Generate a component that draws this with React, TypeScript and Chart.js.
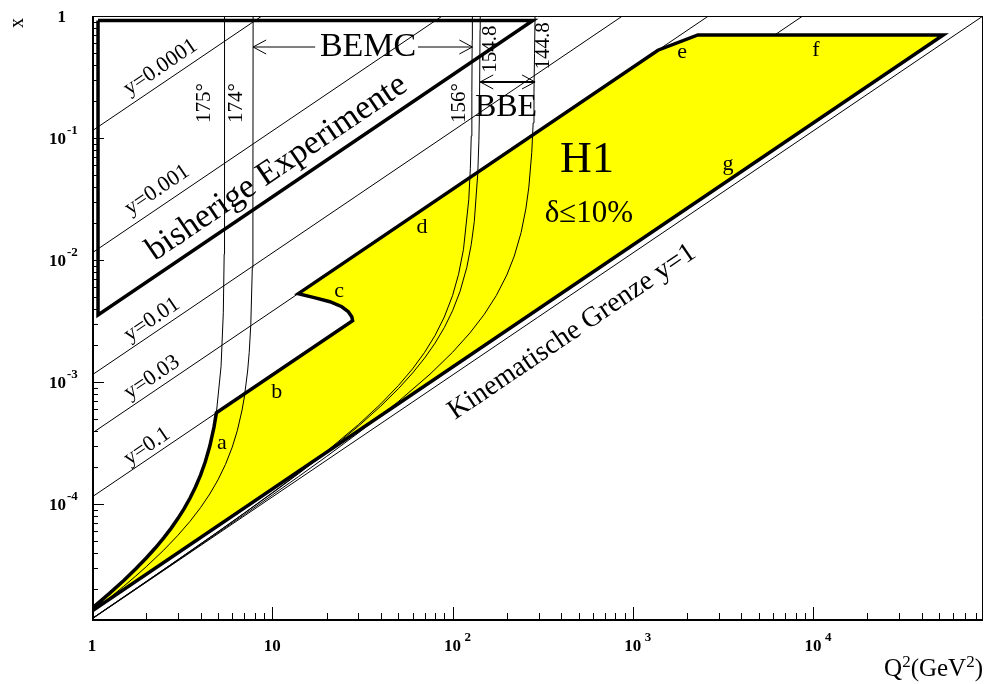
import React, { useEffect, useRef } from 'react';
import { Chart, registerables } from 'chart.js';

Chart.register(...registerables);

// Axis ranges: Q² from 1 to s = 4·Ee·Ep, x from 1/s to 1 (so y = 1 is the diagonal)
const Q2_MIN = 1;
const Q2_MAX = 87600;
const X_MIN = 1.142e-5;
const X_MAX = 1;

type P = [number, number]; // [Q², x]

// Lines of constant inelasticity y
const lineY00001: P[] = [[1, 0.1142], [8.76, 1]];
const lineY0001: P[] = [[1, 0.01142], [87.6, 1]];
const lineY001: P[] = [[1, 1.142e-3], [876, 1]];
const lineY003: P[] = [[1, 3.805e-4], [2628, 1]];
const lineY01: P[] = [[1, 1.142e-4], [8760, 1]];
const lineY1: P[] = [[1, 1.142e-5], [87600, 1]];

// Lines of constant electron scattering angle
const theta175: P[] = [
  [1, 1.399e-5], [1.25, 1.853e-5], [1.5, 2.364e-5], [1.75, 2.945e-5], [2, 3.61e-5],
  [2.25, 4.38e-5], [2.5, 5.281e-5], [2.75, 6.349e-5], [3, 7.636e-5], [3.25, 9.216e-5],
  [3.5, 1.12e-4], [3.75, 1.378e-4], [4, 1.725e-4], [4.25, 2.218e-4], [4.5, 2.973e-4],
  [4.75, 4.275e-4], [4.9, 5.633e-4], [5.2, 1.345e-3], [5.35, 3.692e-3], [5.41, 0.0112],
  [5.43, 0.0337], [5.437, 0.1126], [5.44, 1],
];
const theta174: P[] = [
  [1, 1.309e-5], [1.25, 1.698e-5], [1.5, 2.118e-5], [1.75, 2.573e-5], [2, 3.066e-5],
  [2.5, 4.192e-5], [3, 5.551e-5], [3.5, 7.225e-5], [4, 9.336e-5], [4.5, 1.208e-4],
  [5, 1.579e-4], [5.5, 2.11e-4], [6, 2.931e-4], [6.4, 4.0e-4], [6.8, 5.902e-4],
  [7.0, 7.538e-4], [7.3, 1.231e-3], [7.45, 1.7525e-3], [7.6, 2.954e-3], [7.75, 8.66e-3],
  [7.81, 0.0349], [7.83, 1],
];
const theta156: P[] = [
  [1, 1.151e-5], [2, 2.319e-5], [3, 3.506e-5], [5, 5.938e-5], [7, 8.45e-5],
  [10, 1.238e-4], [14, 1.793e-4], [20, 2.703e-4], [30, 4.465e-4], [40, 6.623e-4],
  [50, 9.329e-4], [60, 1.282e-3], [70, 1.75e-3], [80, 2.41e-3], [90, 3.41e-3],
  [100, 5.105e-3], [108, 7.634e-3], [115, 0.01225], [123, 0.03118], [125.5, 0.0559],
  [127, 0.1037], [128, 0.2353], [128.5, 0.63], [128.8, 1],
];
const theta154_8: P[] = [
  [1, 1.15e-5], [2, 2.316e-5], [3, 3.498e-5], [5, 5.915e-5], [7, 8.404e-5],
  [10, 1.228e-4], [14, 1.7724e-4], [20, 2.656e-4], [30, 4.339e-4], [40, 6.35e-4],
  [50, 8.796e-4], [60, 1.184e-3], [70, 1.5717e-3], [80, 2.084e-3], [90, 2.792e-3],
  [100, 3.834e-3], [110, 5.519e-3], [120, 8.709e-3], [127, 0.01341], [132, 0.02063],
  [138, 0.05098], [140, 0.0948], [141, 0.1637], [142.1, 0.77], [142.4, 1],
];
const theta144_8: P[] = [
  [1, 1.146e-5], [2, 2.299e-5], [3, 3.461e-5], [5, 5.809e-5], [7, 8.191e-5],
  [10, 1.183e-4], [14, 1.68e-4], [20, 2.454e-4], [30, 3.825e-4], [50, 6.912e-4],
  [75, 1.1592e-3], [100, 1.752e-3], [125, 2.529e-3], [150, 3.589e-3], [175, 5.122e-3],
  [200, 7.537e-3], [220, 0.01077], [240, 0.01676], [255, 0.02618], [265, 0.03963],
  [275, 0.0757], [280, 0.1329], [283, 0.2377], [285, 0.491], [286.9, 1],
];

// H1 region with δ ≤ 10 % (edges a–g)
const h1Region: P[] = [
  [1.03, 1.45e-5], [1.25, 1.853e-5], [1.5, 2.364e-5], [1.75, 2.945e-5], [2, 3.61e-5],
  [2.25, 4.38e-5], [2.5, 5.281e-5], [2.75, 6.349e-5], [3, 7.636e-5], [3.25, 9.216e-5],
  [3.5, 1.12e-4], [3.75, 1.378e-4], [4, 1.725e-4], [4.25, 2.218e-4], [4.5, 2.973e-4],
  [4.75, 4.275e-4], [4.896, 5.59e-4],
  [27.9, 3.185e-3], [27.6, 3.43e-3], [26.4, 3.77e-3], [24.3, 4.14e-3], [20.9, 4.55e-3],
  [16.89, 4.94e-3], [13.94, 5.3e-3],
  [1378, 0.5244], [2296, 0.7], [52735, 0.7],
  [1.03, 1.367e-5], [1.03, 1.45e-5],
];

// Region covered by earlier fixed-target experiments
const previousExperiments: P[] = [[1.08, 0.918], [279, 0.918], [1.08, 3.55e-3], [1.08, 0.918]];

// Axis ticks
const xMajorTicks = [1, 10, 100, 1000, 10000];
const xMajorLabels: [string, string][] = [['1', ''], ['10', ''], ['10', '2'], ['10', '3'], ['10', '4']];
const yMajorTicks = [1, 0.1, 0.01, 0.001, 0.0001];
const yMajorLabels: [string, string][] = [['1', ''], ['10', '-1'], ['10', '-2'], ['10', '-3'], ['10', '-4']];

const SERIF = '"Liberation Serif", "Times New Roman", serif';

const pts = (d: P[]) => d.map(([q, x]) => ({ x: q, y: x }));

const lineSet = (d: P[], order: number, width = 1) => ({
  data: pts(d),
  showLine: true,
  pointRadius: 0,
  borderColor: '#000',
  borderWidth: width,
  tension: 0,
  fill: false,
  order,
});

const figurePlugin = {
  id: 'figureDecor',
  afterDatasetsDraw(chart: any) {
    const { ctx, chartArea: a, scales } = chart;
    const X = (v: number) => scales.x.getPixelForValue(v);
    const Y = (v: number) => scales.y.getPixelForValue(v);
    // slope of the constant-y lines on screen
    const diag = Math.atan2(Y(X_MIN) - Y(X_MAX), X(Q2_MAX) - X(Q2_MIN));

    const text = (t: string, q: number, x: number, font: string, rot = 0, align: CanvasTextAlign = 'center') => {
      ctx.save();
      ctx.translate(X(q), Y(x));
      ctx.rotate(rot);
      ctx.font = font;
      ctx.fillStyle = '#000';
      ctx.textAlign = align;
      ctx.textBaseline = 'middle';
      ctx.fillText(t, 0, 0);
      ctx.restore();
    };

    ctx.save();
    // frame
    ctx.strokeStyle = '#000';
    ctx.lineWidth = 1;
    ctx.beginPath();
    ctx.moveTo(a.left, a.top + 0.5);
    ctx.lineTo(a.right - 0.5, a.top + 0.5);
    ctx.lineTo(a.right - 0.5, a.bottom);
    ctx.stroke();
    ctx.lineWidth = 2;
    ctx.beginPath();
    ctx.moveTo(a.left + 1, a.top);
    ctx.lineTo(a.left + 1, a.bottom + 1);
    ctx.lineTo(a.right, a.bottom + 1);
    ctx.stroke();

    // ticks
    ctx.lineWidth = 1;
    ctx.beginPath();
    for (let e = 0; e <= 4; e++) {
      for (let m = 1; m <= 9; m++) {
        const v = m * Math.pow(10, e);
        if (v < Q2_MIN || v > Q2_MAX) continue;
        const px = Math.round(X(v)) + 0.5;
        const len = m === 1 ? 12 : 6;
        ctx.moveTo(px, a.bottom);
        ctx.lineTo(px, a.bottom - len);
      }
    }
    for (let e = -5; e <= 0; e++) {
      for (let m = 1; m <= 9; m++) {
        const v = m * Math.pow(10, e);
        if (v < X_MIN || v > X_MAX) continue;
        const py = Math.round(Y(v)) + 0.5;
        const len = m === 1 ? 12 : 6;
        ctx.moveTo(a.left, py);
        ctx.lineTo(a.left + len, py);
      }
    }
    ctx.stroke();

    // tick labels
    ctx.fillStyle = '#000';
    ctx.textBaseline = 'middle';
    xMajorTicks.forEach((v, i) => {
      const [base, sup] = xMajorLabels[i];
      const px = X(v);
      ctx.font = `bold 17px ${SERIF}`;
      ctx.textAlign = 'center';
      ctx.fillText(base, px, a.bottom + 28);
      if (sup) {
        ctx.font = `bold 13px ${SERIF}`;
        ctx.textAlign = 'left';
        ctx.fillText(sup, px + 12, a.bottom + 19);
      }
    });
    yMajorTicks.forEach((v, i) => {
      const [base, sup] = yMajorLabels[i];
      const py = Y(v);
      ctx.font = `bold 17px ${SERIF}`;
      ctx.textAlign = 'right';
      ctx.fillText(base, a.left - 26, py + 2);
      if (sup) {
        ctx.font = `bold 13px ${SERIF}`;
        ctx.textAlign = 'left';
        ctx.fillText(sup, a.left - 25, py - 7);
      }
    });

    // axis titles
    ctx.save();
    ctx.translate(18, 23);
    ctx.rotate(-Math.PI / 2);
    ctx.font = `20px ${SERIF}`;
    ctx.textAlign = 'center';
    ctx.fillText('x', 0, 0);
    ctx.restore();

    const big = `25px ${SERIF}`;
    const small = `17px ${SERIF}`;
    const parts: [string, string, number][] = [['Q', big, 0], ['2', small, -9], ['(GeV', big, 0], ['2', small, -9], [')', big, 0]];
    let total = 0;
    parts.forEach(([t, f]) => { ctx.font = f; total += ctx.measureText(t).width; });
    let cx = a.right - total;
    ctx.textAlign = 'left';
    ctx.textBaseline = 'alphabetic';
    parts.forEach(([t, f, dy]) => {
      ctx.font = f;
      ctx.fillText(t, cx, 676 + dy);
      cx += ctx.measureText(t).width;
    });
    ctx.restore();

    // labels of the constant-y lines
    const f22 = `22px ${SERIF}`;
    text('y=0.0001', 2.4, 0.38, f22, -diag);
    text('y=0.001', 2.3, 0.0375, f22, -diag);
    text('y=0.01', 2.15, 3.25e-3, f22, -diag);
    text('y=0.03', 2.15, 1.09e-3, f22, -diag);
    text('y=0.1', 2.02, 2.97e-4, f22, -diag);
    text('bisherige Experimente', 10.6, 0.0568, `34px ${SERIF}`, -diag);
    text('Kinematische Grenze y=1', 460, 2.57e-3, `28px ${SERIF}`, -diag);

    // angle labels
    const f21 = `21px ${SERIF}`;
    text('175°', 4.23, 0.1936, f21, -Math.PI / 2);
    text('174°', 6.37, 0.1936, f21, -Math.PI / 2);
    text('156°', 108.6, 0.1936, f21, -Math.PI / 2);
    text('154.8', 161.4, 0.536, f21, -Math.PI / 2);
    text('144.8', 317.6, 0.568, f21, -Math.PI / 2);

    // detector names and arrows
    text('BEMC', 34.0, 0.557, `34px ${SERIF}`);
    text('BBE', 198, 0.176, `32px ${SERIF}`);
    text('H1', 557, 0.066, `44px ${SERIF}`);
    text('δ≤10%', 571, 0.0238, `31px ${SERIF}`);

    ctx.save();
    ctx.strokeStyle = '#000';
    const head = (tx: number, ty: number, dir: number) => {
      ctx.lineWidth = 1;
      ctx.beginPath();
      ctx.moveTo(tx - dir * 13, ty - 7);
      ctx.lineTo(tx, ty);
      ctx.lineTo(tx - dir * 13, ty + 7);
      ctx.stroke();
    };
    const yb = Y(0.557);
    ctx.lineWidth = 1;
    ctx.beginPath();
    ctx.moveTo(X(17.3), yb); ctx.lineTo(X(7.83), yb);
    ctx.moveTo(X(64.3), yb); ctx.lineTo(X(128.8), yb);
    ctx.stroke();
    head(X(7.83), yb, -1);
    head(X(128.8), yb, 1);
    const yr = Y(0.288);
    ctx.lineWidth = 2;
    ctx.beginPath();
    ctx.moveTo(X(142.4), yr); ctx.lineTo(X(286.9), yr);
    ctx.stroke();
    head(X(142.4), yr, -1);
    head(X(286.9), yr, 1);
    ctx.restore();

    // edge letters
    const fl = `22px ${SERIF}`;
    text('a', 5.26, 3.16e-4, fl);
    text('b', 10.6, 8.28e-4, fl);
    text('c', 23.5, 5.57e-3, fl);
    text('d', 67.7, 0.01864, fl);
    text('e', 1875, 0.507, fl);
    text('f', 10380, 0.526, fl);
    text('g', 3373, 0.0612, fl);
  },
};

export default function App() {
  const ref = useRef<HTMLCanvasElement | null>(null);

  useEffect(() => {
    if (!ref.current) return;
    const chart = new Chart(ref.current, {
      type: 'scatter',
      data: {
        datasets: [
          lineSet(lineY00001, 6),
          lineSet(lineY0001, 6),
          lineSet(lineY001, 6),
          lineSet(lineY003, 6),
          lineSet(lineY01, 6),
          lineSet(lineY1, 6),
          {
            ...lineSet(h1Region, 4, 3.5),
            fill: 'shape',
            backgroundColor: '#ffff00',
            borderJoinStyle: 'miter',
          },
          lineSet(theta175, 2),
          lineSet(theta174, 2),
          lineSet(theta156, 2),
          lineSet(theta154_8, 2),
          lineSet(theta144_8, 2),
          { ...lineSet(previousExperiments, 1, 3.5), borderJoinStyle: 'miter' },
        ] as any,
      },
      options: {
        animation: false,
        responsive: false,
        devicePixelRatio: 1,
        layout: { padding: { left: 92, top: 16, right: 2, bottom: 65 } },
        scales: {
          x: { type: 'logarithmic', min: Q2_MIN, max: Q2_MAX, display: false },
          y: { type: 'logarithmic', min: X_MIN, max: X_MAX, display: false },
        },
        plugins: { legend: { display: false }, tooltip: { enabled: false } },
        events: [],
      } as any,
      plugins: [figurePlugin],
    });
    return () => chart.destroy();
  }, []);

  return (
    <div style={{ position: 'absolute', left: 0, top: 0, width: 985, height: 684, background: '#fff' }}>
      <canvas ref={ref} width={985} height={684} />
    </div>
  );
}
